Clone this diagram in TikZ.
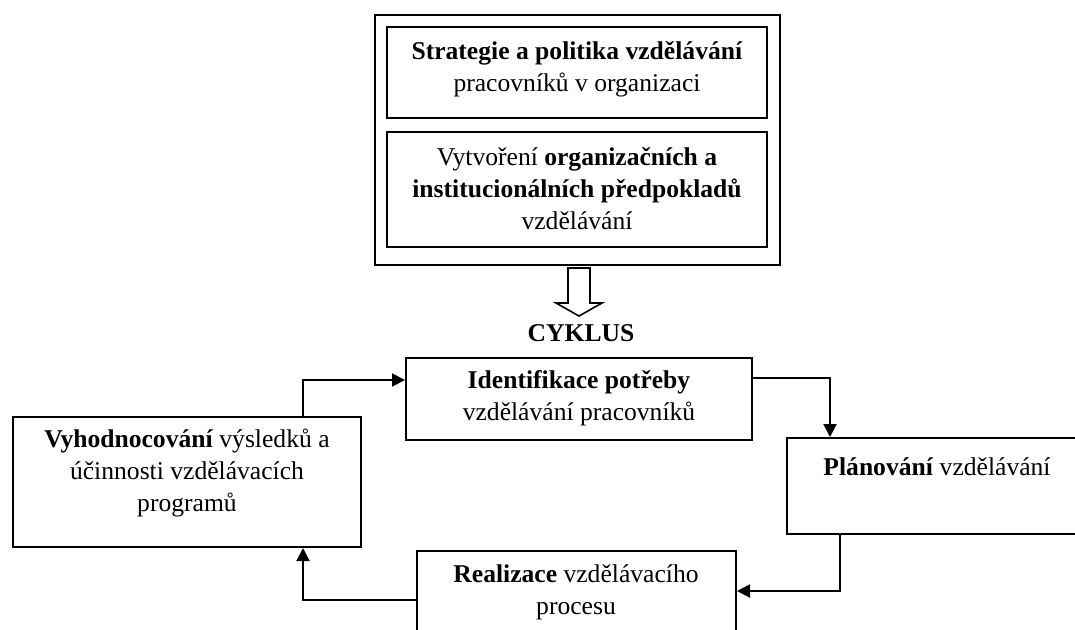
\documentclass[tikz,border=0pt]{standalone}
\usepackage{fontspec}
\setmainfont{Liberation Serif}
\usetikzlibrary{arrows.meta,calc}
\begin{document}
\begin{tikzpicture}[x=0.5pt,y=-0.5pt,
  box/.style={draw,line width=1pt,inner sep=0pt},
  txt/.style={align=center,font=\fontsize{12.8}{16}\selectfont,inner sep=0pt},
  arr/.style={line width=1pt,-{Triangle[length=6.5pt,width=6.5pt]}},
  ln/.style={line width=1pt}]
\useasboundingbox (0,0) rectangle (1075,629);
\clip (0,0) rectangle (1075,629);
% top block
\node[box,minimum width=202.5pt,minimum height=125pt] (outer) at (577.5,140) {};
\node[box,minimum width=190pt,minimum height=45.5pt] (strat) at (577,72.5) {};
\node[box,minimum width=190pt,minimum height=57.5pt] (vytv) at (577,189.5) {};
\node[txt] (tstrat) at (577,69) {\textbf{Strategie a politika vzdělávání}\\pracovníků v organizaci};
\node[txt] (tvytv) at (577,189) {Vytvoření \textbf{organizačních a}\\\textbf{institucionálních předpokladů}\\vzdělávání};
% hollow arrow
\coordinate (ha) at (579,268);
\draw[line width=0.8pt] (ha) ++(-11,0) -- ++(22,0) -- ++(0,35) -- ++(12,0) -- (579,316) -- (556,303) -- ++(12,0) -- cycle;
\node[txt,font=\fontsize{12.8}{16}\selectfont\bfseries] (cyk) at (581,333) {CYKLUS};
% cycle boxes
\node[box,minimum width=173pt,minimum height=41pt] (ident) at (579,399) {};
\node[txt] (tident) at (579,398) {\textbf{Identifikace potřeby}\\vzdělávání pracovníků};
\node[box,minimum width=174pt,minimum height=65pt] (vyhod) at (187,482) {};
\node[txt] (tvyhod) at (187,473) {\textbf{Vyhodnocování} výsledků a\\účinnosti vzdělávacích\\programů};
\node[box,minimum width=150pt,minimum height=48pt] (plan) at (937,486) {};
\node[txt] (tplan) at (937,467) {\textbf{Plánování} vzdělávání};
\node[box,minimum width=159.5pt,minimum height=49pt] (real) at (576.5,600) {};
\node[txt] (treal) at (576,592) {\textbf{Realizace} vzdělávacího\\procesu};
% connectors
\coordinate (c1) at (303,380);
\draw[arr] (vyhod.north -| c1) -- (c1) -- (ident.west |- c1);
\coordinate (c2) at (830,378);
\draw[arr] (ident.east |- c2) -- (c2) -- (plan.north -| c2);
\coordinate (c3) at (840,591);
\draw[arr] (plan.south -| c3) -- (c3) -- (real.east |- c3);
\coordinate (c4) at (303,600);
\draw[arr] (real.west |- c4) -- (c4) -- (vyhod.south -| c4);
\end{tikzpicture}
\end{document}
